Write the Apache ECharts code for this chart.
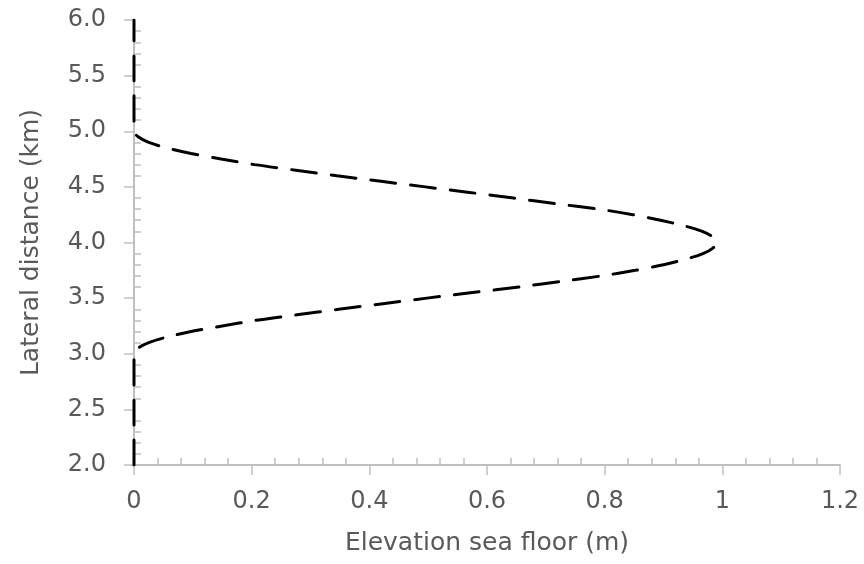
<!DOCTYPE html>
<html>
<head>
<meta charset="utf-8">
<script src="https://cdn.jsdelivr.net/npm/echarts@6/dist/echarts.min.js"></script>
<style>
html,body{margin:0;padding:0;background:#fff;}
#chart{width:864px;height:564px;}
</style>
</head>
<body>
<div id="chart"></div>
<script>
// Lateral distance (km) along the profile
const lateral = [2.0, 2.5, 3.0, 3.05, 3.1, 3.15, 3.2, 3.25, 3.3, 3.35, 3.4, 3.45, 3.5, 3.55, 3.6, 3.65, 3.7, 3.75, 3.8, 3.85, 3.9, 3.95, 4.0,
  4.05, 4.1, 4.15, 4.2, 4.25, 4.3, 4.35, 4.4, 4.45, 4.5, 4.55, 4.6, 4.65, 4.7, 4.75, 4.8, 4.85, 4.9, 4.95, 5.0, 5.5, 6.0];
// Elevation of sea floor (m)
const elevation = [0, 0, 0, 0.007, 0.025, 0.056, 0.097, 0.15, 0.207, 0.277, 0.348, 0.423, 0.498, 0.575, 0.655, 0.725, 0.795, 0.852, 0.9, 0.938, 0.967, 0.984, 0.99,
  0.984, 0.966, 0.935, 0.895, 0.848, 0.79, 0.715, 0.645, 0.57, 0.495, 0.42, 0.345, 0.275, 0.205, 0.148, 0.097, 0.056, 0.025, 0.007, 0, 0, 0];

const xTitle = 'Elevation sea floor (m)';
const yTitle = 'Lateral distance (km)';

const labelColor = '#595959';
const axisColor = '#bfbfbf';
const font = 'DejaVu Sans, sans-serif';

const pts = lateral.map((y, i) => [elevation[i], y]);

const chart = echarts.init(document.getElementById('chart'));
chart.setOption({
  animation: false,
  grid: {left: 134, right: 24, top: 20, bottom: 99, outerBoundsMode: 'none', containLabel: false},
  xAxis: [{
    type: 'value', min: 0, max: 1.2, interval: 0.2,
    name: xTitle, nameLocation: 'middle', nameGap: 66,
    nameTextStyle: {color: labelColor, fontSize: 25, fontFamily: font},
    axisLine: {show: true, lineStyle: {color: axisColor, width: 2}},
    axisTick: {show: true, length: 10, lineStyle: {color: axisColor, width: 1.5}},
    axisLabel: {color: labelColor, fontSize: 24, fontFamily: font, margin: 25,
      formatter: v => (Math.abs(v - Math.round(v)) < 1e-9 ? String(Math.round(v)) : v.toFixed(1))},
    splitLine: {show: false}
  }, {
    type: 'value', min: 0, max: 1.2, interval: 0.2, position: 'bottom', offset: 0,
    axisLine: {show: false},
    axisTick: {show: false, inside: true},
    minorTick: {show: true, splitNumber: 5, length: 7, lineStyle: {color: axisColor, width: 1.5}},
    axisLabel: {show: false},
    splitLine: {show: false}
  }],
  yAxis: [{
    type: 'value', min: 2, max: 6, interval: 0.5,
    name: yTitle, nameLocation: 'middle', nameGap: 90, nameRotate: 90,
    nameTextStyle: {color: labelColor, fontSize: 25, fontFamily: font},
    axisLine: {show: true, lineStyle: {color: axisColor, width: 2}},
    axisTick: {show: true, length: 10, lineStyle: {color: axisColor, width: 1.5}},
    axisLabel: {color: labelColor, fontSize: 24, fontFamily: font, margin: 28, formatter: v => v.toFixed(1)},
    splitLine: {show: false}
  }, {
    type: 'value', min: 2, max: 6, interval: 0.5, position: 'left', offset: 0,
    axisLine: {show: false},
    axisTick: {show: false, inside: true},
    minorTick: {show: true, splitNumber: 5, length: 7, lineStyle: {color: axisColor, width: 1.5}},
    axisLabel: {show: false},
    splitLine: {show: false}
  }],
  series: [{
    type: 'line',
    xAxisIndex: 0, yAxisIndex: 0,
    data: pts,
    showSymbol: false,
    smooth: 0.3,
    lineStyle: {color: '#000', width: 3, type: [25, 15], cap: 'round'},
    z: 5
  }]
});
</script>
</body>
</html>
